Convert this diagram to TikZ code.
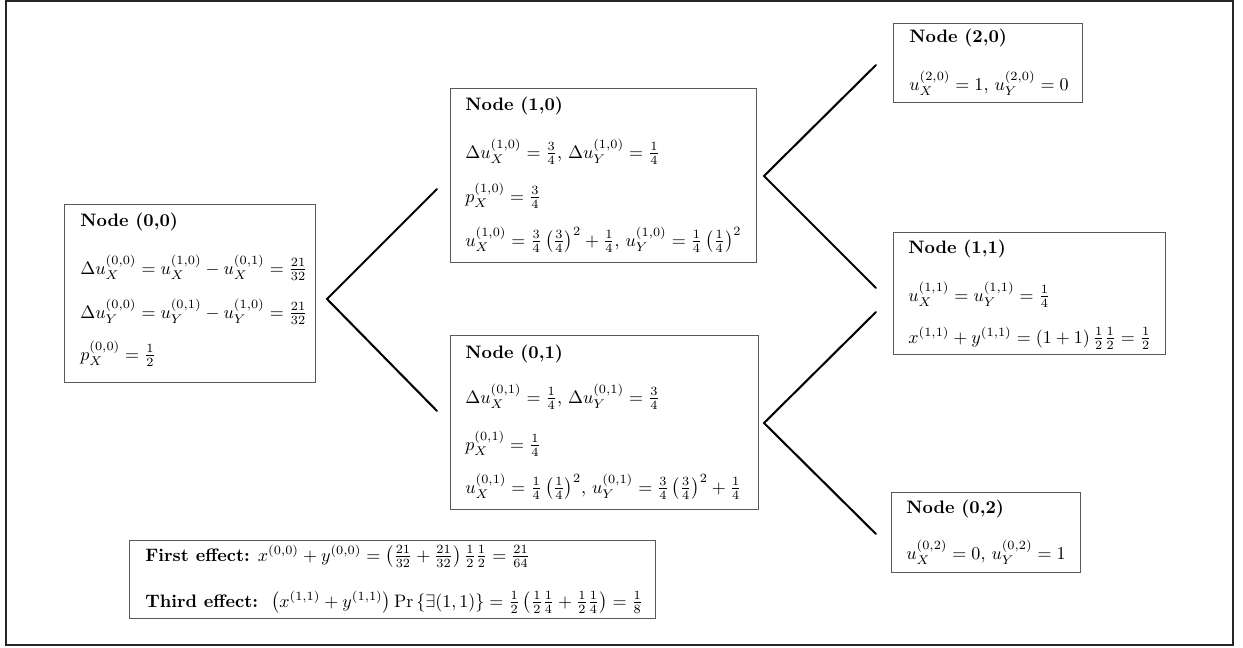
\documentclass[tikz,border=0pt]{standalone}
\usepackage{amsmath}
\usetikzlibrary{fit}
\tikzset{
  box/.style={draw=black!65, line width=0.55pt, inner sep=0pt},
  txt/.style={anchor=base west, inner sep=0pt, font=\fontsize{10}{12}\selectfont},
  branch/.style={line width=1.15pt, line cap=round, line join=miter},
}
\begin{document}
\begin{tikzpicture}[x=0.555pt, y=-0.555pt]
  \useasboundingbox (0,0) rectangle (1243,647);
  \draw[black!85, line width=0.8pt] (6,1) rectangle (1233,645);

  % boxes
  \node[box, fit={(64,204)(315,382)}]  (n00) {};
  \node[box, fit={(450,88)(756,262)}]  (n10) {};
  \node[box, fit={(450,335)(758,509)}] (n01) {};
  \node[box, fit={(893,23)(1082,102)}] (n20) {};
  \node[box, fit={(893,232)(1165,354)}] (n11) {};
  \node[box, fit={(891,492)(1080,572)}] (n02) {};
  \node[box, fit={(129,540)(655,618)}] (eff) {};

  % Node (0,0)
  \node[txt] (t00a) at (80,226) {\textbf{Node (0,0)}};
  \node[txt] (t00b) at (80,274) {$\Delta u_X^{(0,0)} = u_X^{(1,0)} - u_X^{(0,1)} = \frac{21}{32}$};
  \node[txt] (t00c) at (80,318) {$\Delta u_Y^{(0,0)} = u_Y^{(0,1)} - u_Y^{(1,0)} = \frac{21}{32}$};
  \node[txt] (t00d) at (80,360) {$p_X^{(0,0)} = \frac{1}{2}$};

  % Node (1,0)
  \node[txt] (t10a) at (465,110) {\textbf{Node (1,0)}};
  \node[txt] (t10b) at (465,158) {$\Delta u_X^{(1,0)} = \frac{3}{4}$, $\Delta u_Y^{(1,0)} = \frac{1}{4}$};
  \node[txt] (t10c) at (465,202) {$p_X^{(1,0)} = \frac{3}{4}$};
  \node[txt] (t10d) at (465,246) {$u_X^{(1,0)} = \frac{3}{4}\left(\frac{3}{4}\right)^2 + \frac{1}{4}$, $u_Y^{(1,0)} = \frac{1}{4}\left(\frac{1}{4}\right)^2$};

  % Node (0,1)
  \node[txt] (t01a) at (465,358) {\textbf{Node (0,1)}};
  \node[txt] (t01b) at (465,403) {$\Delta u_X^{(0,1)} = \frac{1}{4}$, $\Delta u_Y^{(0,1)} = \frac{3}{4}$};
  \node[txt] (t01c) at (465,450) {$p_X^{(0,1)} = \frac{1}{4}$};
  \node[txt] (t01d) at (465,493) {$u_X^{(0,1)} = \frac{1}{4}\left(\frac{1}{4}\right)^2$, $u_Y^{(0,1)} = \frac{3}{4}\left(\frac{3}{4}\right)^2 + \frac{1}{4}$};

  % Node (2,0)
  \node[txt] (t20a) at (909,42) {\textbf{Node (2,0)}};
  \node[txt] (t20b) at (909,90) {$u_X^{(2,0)} = 1$, $u_Y^{(2,0)} = 0$};

  % Node (1,1)
  \node[txt] (t11a) at (908,253) {\textbf{Node (1,1)}};
  \node[txt] (t11b) at (908,301) {$u_X^{(1,1)} = u_Y^{(1,1)} = \frac{1}{4}$};
  \node[txt] (t11c) at (908,343) {$x^{(1,1)} + y^{(1,1)} = \left(1+1\right)\frac{1}{2}\frac{1}{2} = \frac{1}{2}$};

  % Node (0,2)
  \node[txt] (t02a) at (906,513) {\textbf{Node (0,2)}};
  \node[txt] (t02b) at (906,559) {$u_X^{(0,2)} = 0$, $u_Y^{(0,2)} = 1$};

  % effects
  \node[txt] (effa) at (145,561) {\textbf{First effect:} $x^{(0,0)} + y^{(0,0)} = \left(\frac{21}{32} + \frac{21}{32}\right)\frac{1}{2}\frac{1}{2} = \frac{21}{64}$};
  \node[txt] (effb) at (145,607) {\textbf{Third effect:} $\;\left(x^{(1,1)} + y^{(1,1)}\right)\Pr\left\{\exists(1,1)\right\} = \frac{1}{2}\left(\frac{1}{2}\frac{1}{4} + \frac{1}{2}\frac{1}{4}\right) = \frac{1}{8}$};

  % branch points
  \coordinate (o00) at (327,299);
  \coordinate (i10) at (437,189);
  \coordinate (i01) at (437,411);
  \coordinate (o10) at (764,176);
  \coordinate (i20) at (876,65);
  \coordinate (i11a) at (876,288);
  \coordinate (o01) at (764,423);
  \coordinate (i11b) at (876,312);
  \coordinate (i02) at (876,534);

  \draw[branch] (i10) -- (o00) -- (i01);
  \draw[branch] (i20) -- (o10) -- (i11a);
  \draw[branch] (i11b) -- (o01) -- (i02);
\end{tikzpicture}
\end{document}
